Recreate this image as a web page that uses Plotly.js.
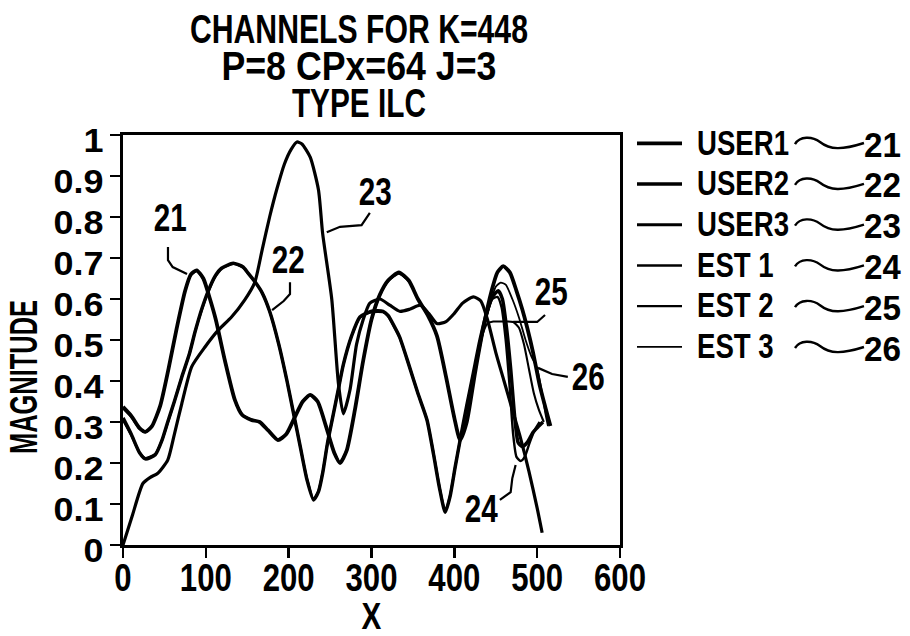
<!DOCTYPE html>
<html><head><meta charset="utf-8">
<script src="https://cdn.plot.ly/plotly-3.0.1.min.js"></script>
<style>body{margin:0;background:#fff}#chart{width:910px;height:636px}</style>
</head><body><div id="chart"></div>
<script>
// ---------- data ----------
const seriesNames = ['USER1', 'USER2', 'USER3', 'EST 1', 'EST 2', 'EST 3'];
const refNumbers = ['21', '22', '23', '24', '25', '26'];
const xTicks = [0, 100, 200, 300, 400, 500, 600];
const titleLines = ['CHANNELS FOR K=448', 'P=8 CPx=64 J=3', 'TYPE ILC'];

const user1X = [0,10,20,27,35,45,55,65,75,82,89,97,105,112,123,135,144,155,165,175,187,197,207,217,226,235,245,255,262,270,280,290,300,310,320,333,345,356,368,379,390,400,407,415,425,435,445,452,459,467,475,482,488,495,503,510,516];
const user1Y = [0.337,0.315,0.285,0.276,0.29,0.34,0.43,0.53,0.62,0.66,0.67,0.65,0.60,0.55,0.45,0.354,0.317,0.305,0.30,0.28,0.256,0.27,0.31,0.35,0.366,0.35,0.29,0.225,0.20,0.23,0.33,0.45,0.55,0.61,0.645,0.665,0.645,0.60,0.56,0.51,0.41,0.31,0.256,0.30,0.42,0.53,0.62,0.665,0.68,0.665,0.62,0.575,0.53,0.47,0.39,0.335,0.29];

const user2X = [0,10,20,27,39,47,54,62,71,80,87,95,103,111,119,133,145,151,160,168,177,188,198,206,214,222,230,236,241,247,253,260,266,276,286,300,314,320,327,334,345,356,367,375,382,389,395,401,407,415,423,431,439,446,453,458,463,468,473,477,482,488,495,502,507];
const user2Y = [0.31,0.27,0.225,0.21,0.22,0.255,0.30,0.35,0.41,0.465,0.52,0.575,0.62,0.655,0.675,0.687,0.678,0.663,0.64,0.615,0.57,0.49,0.40,0.32,0.24,0.16,0.11,0.13,0.175,0.25,0.31,0.38,0.44,0.51,0.556,0.57,0.57,0.56,0.535,0.507,0.44,0.37,0.305,0.22,0.14,0.08,0.12,0.19,0.256,0.34,0.42,0.50,0.566,0.605,0.62,0.60,0.53,0.43,0.31,0.25,0.24,0.25,0.275,0.29,0.30];

const user3X = [0,11,24,33,42,54,62,71,83,99,115,131,147,159,168,177,186,195,203,210,216,226,236,241,252,260,266,274,282,290,298,310,322,334,346,359,369,379,390,400,410,423,432,440,450,460,470,480,490,500,506];
const user3Y = [0.0,0.07,0.15,0.165,0.175,0.207,0.27,0.345,0.435,0.483,0.524,0.556,0.598,0.64,0.72,0.80,0.87,0.93,0.965,0.983,0.978,0.946,0.866,0.76,0.60,0.395,0.32,0.378,0.49,0.55,0.59,0.60,0.585,0.57,0.575,0.585,0.565,0.54,0.545,0.565,0.59,0.605,0.595,0.55,0.47,0.40,0.33,0.26,0.18,0.09,0.03];

const est1X = [0,10,20,27,39,47,54,62,71,80,87,95,103,111,119,133,145,151,160,168,177,188,198,206,214,222,230,236,241,247,253,260,266,276,286,300,314,320,327,334,345,356,367,375,382,389,395,401,407,415,423,431,439,446,452,457,462,467,471,475,480,485,491,497,503];
const est1Y = [0.305,0.268,0.225,0.212,0.222,0.255,0.298,0.35,0.41,0.465,0.52,0.573,0.618,0.653,0.674,0.686,0.677,0.662,0.64,0.615,0.57,0.49,0.40,0.32,0.24,0.162,0.112,0.132,0.176,0.25,0.31,0.38,0.44,0.51,0.555,0.568,0.568,0.558,0.534,0.506,0.44,0.37,0.305,0.222,0.142,0.083,0.122,0.19,0.256,0.338,0.418,0.497,0.56,0.60,0.605,0.58,0.50,0.38,0.27,0.215,0.205,0.215,0.25,0.28,0.30];

const est2X = [0,10,20,27,35,45,55,65,75,82,89,97,105,112,123,135,144,155,165,175,187,197,207,217,226,235,245,255,262,270,280,290,300,310,320,333,345,356,368,379,390,400,407,415,425,432,440,447,455,463,471,478,484,490,496,502,508];
const est2Y = [0.333,0.312,0.283,0.275,0.29,0.34,0.43,0.53,0.62,0.658,0.668,0.648,0.60,0.55,0.45,0.355,0.318,0.306,0.30,0.28,0.257,0.27,0.31,0.35,0.365,0.35,0.29,0.226,0.202,0.232,0.33,0.45,0.548,0.608,0.643,0.662,0.643,0.60,0.56,0.51,0.41,0.31,0.26,0.305,0.425,0.50,0.54,0.545,0.545,0.545,0.544,0.53,0.49,0.43,0.37,0.33,0.30];

const est3X = [0,10,20,27,35,45,55,65,75,82,89,97,105,112,123,135,144,155,165,175,187,197,207,217,226,235,245,255,262,270,280,290,300,310,320,333,345,356,368,379,390,400,407,415,425,435,445,450,456,462,470,478,486,493,500,506,510,513];
const est3Y = [0.335,0.314,0.286,0.277,0.291,0.34,0.43,0.53,0.62,0.66,0.67,0.65,0.60,0.55,0.45,0.354,0.318,0.305,0.30,0.28,0.256,0.27,0.31,0.35,0.366,0.35,0.29,0.226,0.201,0.231,0.33,0.45,0.55,0.61,0.645,0.664,0.644,0.60,0.56,0.51,0.41,0.31,0.258,0.302,0.42,0.52,0.60,0.63,0.64,0.635,0.60,0.555,0.50,0.46,0.43,0.37,0.32,0.29];

// ---------- styling ----------
const FONT = '"Liberation Sans", Arial, sans-serif';
const W = 910, H = 636;
const M = {l: 123, r: 290, t: 135, b: 91};
const PW = W - M.l - M.r, PH = H - M.t - M.b;
const px2paperX = px => (px - M.l) / PW;
const px2paperY = py => (H - M.b - py) / PH;

const xs = [user1X, user2X, user3X, est1X, est2X, est3X];
const ys = [user1Y, user2Y, user3Y, est1Y, est2Y, est3Y];
const widths = [3.8, 3.5, 3.2, 2.4, 2.1, 1.8];

const traces = seriesNames.map((n, i) => ({
  type: 'scatter', mode: 'lines', name: n,
  x: xs[i], y: ys[i],
  line: {color: '#000', width: widths[i], shape: 'spline', smoothing: 0.6}
}));

const ann = [];
const annTarget = [];   // target ink widths (px) for condensing each annotation
const shapes = [];
// three-line title as one text block (tight line spacing set after drawing)
const titleW = [338, 275, 134];
const titleLineGap = 37, titleTop = 7;
ann.push({text: titleLines.join('<br>'), xref: 'paper', yref: 'paper', x: px2paperX(359), y: px2paperY(2),
  xanchor: 'center', yanchor: 'top', showarrow: false,
  font: {family: FONT, size: 40, weight: 700, color: '#000'}});
annTarget.push(null);
// legend reference numbers + wavy leaders
const rowY0 = 144, rowDY = 40.8;
refNumbers.forEach((t, i) => {
  const c = rowY0 + rowDY * i;
  ann.push({text: t, xref: 'paper', yref: 'paper', x: px2paperX(882), y: px2paperY(c),
    xanchor: 'center', yanchor: 'middle', showarrow: false,
    font: {family: FONT, size: 35, weight: 700, color: '#000'}});
  annTarget.push(37);
  const P = (a, b) => px2paperX(a).toFixed(4) + ',' + px2paperY(b).toFixed(4);
  shapes.push({type: 'path', xref: 'paper', yref: 'paper',
    path: 'M' + P(795, c) + ' C' + P(800, c - 8) + ' ' + P(812, c - 8) + ' ' + P(820, c - 2) +
          ' C' + P(830, c + 6) + ' ' + P(842, c + 6) + ' ' + P(864, c - 1),
    line: {color: '#000', width: 2.4}});
});
// in-plot callouts: label position and leader polyline (data units)
const callouts = [
  {t: '21', x: 57, y: 0.797, pts: [[54.3, 0.727], [54.3, 0.695], [60, 0.678], [77.3, 0.661]]},
  {t: '22', x: 199, y: 0.695, pts: [[201.6, 0.641], [201.6, 0.612], [194, 0.595], [180, 0.573]]},
  {t: '23', x: 304, y: 0.861, pts: [[298, 0.81], [288, 0.78], [262, 0.776], [246, 0.763]]},
  {t: '25', x: 517, y: 0.617, pts: [[509.5, 0.561], [500, 0.544], [471, 0.544]]},
  {t: '26', x: 561, y: 0.41, pts: [[537, 0.41], [518, 0.417], [501, 0.432]]},
  {t: '24', x: 432, y: 0.088, pts: [[455, 0.11], [468, 0.129], [470, 0.163], [474, 0.195]]}
];
callouts.forEach(c => {
  ann.push({text: c.t, x: c.x, y: c.y, xref: 'x', yref: 'y', showarrow: false,
    xanchor: 'center', yanchor: 'middle', font: {family: FONT, size: 38, weight: 700, color: '#000'}});
  annTarget.push(33);
  const p = c.pts;
  let d = 'M' + p[0][0] + ',' + p[0][1];
  for (let k = 1; k < p.length; k++) d += ' L' + p[k][0] + ',' + p[k][1];
  shapes.push({type: 'path', xref: 'x', yref: 'y', path: d, line: {color: '#000', width: 2.2}});
});

const axisCommon = {
  showline: true, linecolor: '#000', linewidth: 3, mirror: true,
  ticks: 'outside', ticklen: 10, tickwidth: 2.5, tickcolor: '#000',
  showgrid: false, zeroline: false
};

const layout = {
  width: W, height: H, margin: M,
  paper_bgcolor: '#fff', plot_bgcolor: '#fff',
  font: {family: FONT, color: '#000'},
  showlegend: true,
  legend: {x: px2paperX(632), y: px2paperY(118), xanchor: 'left', yanchor: 'top',
    font: {family: FONT, size: 29, weight: 700, color: '#000'}, itemwidth: 55, bgcolor: 'rgba(0,0,0,0)'},
  xaxis: Object.assign({}, axisCommon, {range: [0, 600], tickvals: xTicks, ticktext: xTicks.map(String),
    tickfont: {family: FONT, size: 39, weight: 700, color: '#000'},
    title: {text: 'X', font: {family: FONT, size: 37, weight: 700, color: '#000'}, standoff: 4}}),
  yaxis: Object.assign({}, axisCommon, {range: [0, 1], dtick: 0.1, tick0: 0,
    tickfont: {family: FONT, size: 33, weight: 700, color: '#000'},
    title: {text: 'MAGNITUDE', font: {family: FONT, size: 39, weight: 700, color: '#000'}, standoff: 8}}),
  annotations: ann, shapes: shapes
};

// horizontal condensing of the drawn texts (the reference uses a narrow plotter font)
function squeeze(el, sx, sy, dx, dy) {
  const x = parseFloat(el.getAttribute('x')) || 0;
  const y = parseFloat(el.getAttribute('y')) || 0;
  const prev = el.getAttribute('transform') || '';
  el.setAttribute('transform', prev + ' translate(' + (x + (dx || 0)) + ',' + (y + (dy || 0)) + ') scale(' + sx + ',' + sy + ') translate(' + (-x) + ',' + (-y) + ')');
}
function factorFor(el, target) { return target / el.getBBox().width; }

const gd = document.getElementById('chart');
Plotly.newPlot(gd, traces, layout, {displayModeBar: false, staticPlot: true}).then(() => {
  gd.querySelectorAll('g.annotation').forEach(g => {
    const i = +g.getAttribute('data-index');
    const t = g.querySelector('text');
    if (!t) return;
    if (i === 0) {
      // title block: tight line spacing and a narrow width per line
      const lines = Array.from(t.querySelectorAll('tspan.line'));
      lines.forEach((ts, k) => {
        ts.setAttribute('dy', String(k * titleLineGap));
        ts.setAttribute('textLength', String(titleW[k]));
        ts.setAttribute('lengthAdjust', 'spacingAndGlyphs');
      });
      const bb = t.getBBox();
      const ctm = t.getScreenCTM();
      const top = bb.y * ctm.d + ctm.f - gd.getBoundingClientRect().top;
      const prev = t.getAttribute('transform') || '';
      t.setAttribute('transform', prev + ' translate(0,' + (titleTop - top) + ')');
    } else if (annTarget[i]) {
      squeeze(t, factorFor(t, annTarget[i]), 1);
    }
  });
  const xl = Array.from(gd.querySelectorAll('.xtick text'));
  const x100 = xl.find(t => t.textContent === '100');
  const fx = x100 ? factorFor(x100, 52) : 0.78;
  xl.forEach(t => squeeze(t, fx, 1, 0, -14));
  const yl = Array.from(gd.querySelectorAll('.ytick text'));
  const y09 = yl.find(t => t.textContent === '0.9');
  const fy = y09 ? factorFor(y09, 50) : 1;
  yl.forEach(t => squeeze(t, fy, 1, 0, 5));
  const xt = gd.querySelector('.g-xtitle text');
  if (xt) squeeze(xt, factorFor(xt, 20), 1, 0, 1);
  const yt = gd.querySelector('.g-ytitle text');
  if (yt) squeeze(yt, factorFor(yt, 154), 1, -37, 0);
  gd.querySelectorAll('.legend .legendlines path').forEach(p => p.setAttribute('d', 'M5,0h45'));
  const lt = Array.from(gd.querySelectorAll('.legend .legendtext'));
  const u1 = lt.find(t => t.textContent === 'USER1');
  const fl = u1 ? factorFor(u1, 92) : 0.9;
  lt.forEach(t => squeeze(t, fl, 1.18));
});
</script>
</body></html>
